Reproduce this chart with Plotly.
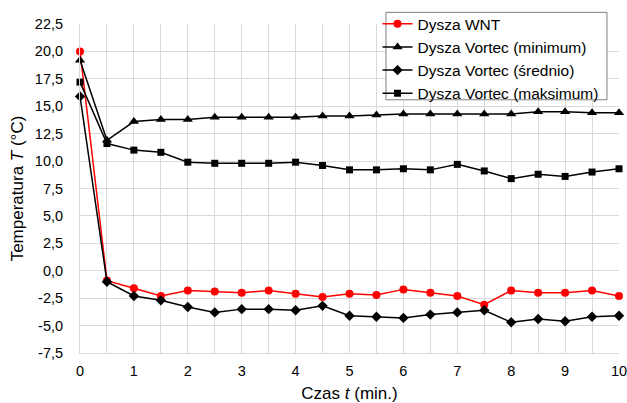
import plotly.graph_objects as go

# Time in minutes
czas = [0, 0.5, 1, 1.5, 2, 2.5, 3, 3.5, 4, 4.5, 5, 5.5, 6, 6.5, 7, 7.5, 8, 8.5, 9, 9.5, 10]

# Temperatures (°C)
dysza_wnt = [20.0, -0.9, -1.6, -2.3, -1.8, -1.9, -2.0, -1.8, -2.1, -2.4, -2.1, -2.2, -1.7,
             -2.0, -2.3, -3.1, -1.8, -2.0, -2.0, -1.8, -2.3]
vortec_min = [19.2, 11.9, 13.6, 13.8, 13.8, 14.0, 14.0, 14.0, 14.0, 14.1, 14.1, 14.2, 14.3,
              14.3, 14.3, 14.3, 14.3, 14.5, 14.5, 14.4, 14.4]
vortec_sr = [15.9, -1.0, -2.3, -2.7, -3.3, -3.8, -3.5, -3.5, -3.6, -3.2, -4.1, -4.2, -4.3,
             -4.0, -3.8, -3.6, -4.7, -4.4, -4.6, -4.2, -4.1]
vortec_max = [17.2, 11.6, 11.0, 10.8, 9.9, 9.8, 9.8, 9.8, 9.9, 9.6, 9.2, 9.2, 9.3,
              9.2, 9.7, 9.1, 8.4, 8.8, 8.6, 9.0, 9.3]

y_ticks = [-7.5, -5.0, -2.5, 0.0, 2.5, 5.0, 7.5, 10.0, 12.5, 15.0, 17.5, 20.0, 22.5]
x_ticks = list(range(0, 11))

FONT = "Liberation Sans, Arial, sans-serif"
GRID = "#d9d9d9"

fig = go.Figure()
series = [
    ("Dysza WNT", dysza_wnt, "#ff0000", "circle", 8),
    ("Dysza Vortec (minimum)", vortec_min, "#000000", "triangle-up", 9),
    ("Dysza Vortec (średnio)", vortec_sr, "#000000", "diamond", 8),
    ("Dysza Vortec (maksimum)", vortec_max, "#000000", "square", 7),
]
for name, vals, col, sym, sz in series:
    fig.add_trace(go.Scatter(
        x=czas, y=vals, name=name, mode="lines+markers",
        line=dict(color=col, width=1.5),
        marker=dict(symbol=sym, size=sz, color=col),
        cliponaxis=False,
    ))

# Legend frame: a white box with a grey border, the legend entries sit on top of it
fig.add_shape(
    type="rect", xref="paper", yref="paper",
    x0=0.5677, x1=0.9777, y0=0.7697, y1=1.0353,
    fillcolor="white", line=dict(color="#7f7f7f", width=1), layer="above",
)

fig.update_layout(
    width=627, height=403,
    margin=dict(l=80, r=8, t=24, b=50, autoexpand=False),
    paper_bgcolor="white", plot_bgcolor="white",
    font=dict(family=FONT, size=15, color="#000000"),
    showlegend=True,
    legend=dict(
        x=0.552, y=1.051, xanchor="left", yanchor="top",
        bgcolor="rgba(0,0,0,0)", borderwidth=0,
        font=dict(family=FONT, size=15.5),
        tracegroupgap=0, itemwidth=30,
    ),
    xaxis=dict(
        range=[0, 10], tickvals=x_ticks, ticktext=[str(v) for v in x_ticks],
        automargin=False, ticklabeloverflow="allow",
        showgrid=True, gridcolor=GRID, gridwidth=1,
        minor=dict(dtick=0.5, showgrid=True, gridcolor=GRID, gridwidth=1),
        showline=True, linecolor=GRID, linewidth=1,
        zeroline=False, ticks="", ticklen=0, ticklabelstandoff=5,
        tickfont=dict(family=FONT, size=14.5),
        title=dict(text="Czas <i>t</i> (min.)", font=dict(family=FONT, size=17), standoff=13),
    ),
    yaxis=dict(
        range=[-7.5, 22.5], tickvals=y_ticks,
        ticktext=[f"{v:.1f}".replace(".", ",") for v in y_ticks],
        automargin=False, ticklabeloverflow="allow",
        showgrid=True, gridcolor=GRID, gridwidth=1,
        showline=True, linecolor=GRID, linewidth=1,
        zeroline=False, ticks="", ticklen=0, ticklabelstandoff=13,
        tickfont=dict(family=FONT, size=14.5),
        title=dict(text="Temperatura <i>T</i> (°C)", font=dict(family=FONT, size=17), standoff=6),
    ),
)

fig.write_html("out.html")
